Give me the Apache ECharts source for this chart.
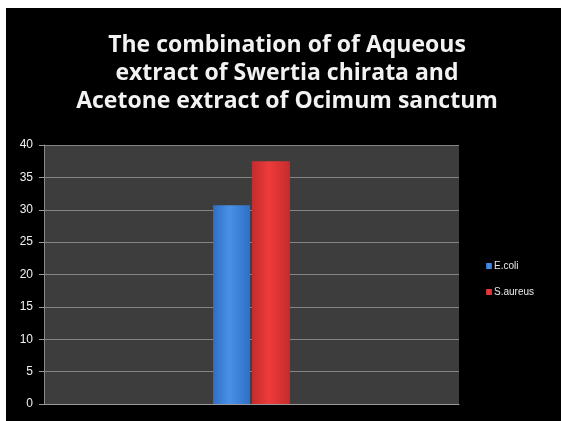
<!DOCTYPE html>
<html>
<head>
<meta charset="utf-8">
<script src="https://cdn.jsdelivr.net/npm/echarts@6/dist/echarts.min.js"></script>
<style>
  html, body { margin: 0; padding: 0; background: #000; }
  #chart { width: 561px; height: 421px; }
</style>
</head>
<body>
<div id="chart"></div>
<script>
// Zone of inhibition for the combined extracts
const categories = ['Combination'];
const ecoli = [30.7];
const saureus = [37.5];
const yTicks = [0, 5, 10, 15, 20, 25, 30, 35, 40];

const chart = echarts.init(document.getElementById('chart'));

function barGradient(dark, light) {
  return new echarts.graphic.LinearGradient(0, 0, 1, 0, [
    { offset: 0, color: dark },
    { offset: 0.45, color: light },
    { offset: 1, color: dark }
  ]);
}

chart.setOption({
  backgroundColor: '#000',
  animation: false,
  title: {
    text: 'The combination of of Aqueous\nextract of Swertia chirata and\nAcetone extract of Ocimum sanctum',
    left: 282,
    top: 26,
    textAlign: 'center',
    textStyle: {
      color: '#f2f2f2',
      fontFamily: 'Open Sans',
      fontWeight: 'bold',
      fontSize: 23,
      lineHeight: 28
    }
  },
  graphic: [
    { type: 'rect', shape: { x: 0, y: 0, width: 561, height: 8 }, style: { fill: '#fff' } },
    { type: 'rect', shape: { x: 0, y: 0, width: 6, height: 421 }, style: { fill: '#fff' } }
  ],
  legend: {
    orient: 'vertical',
    left: 481,
    top: 256,
    itemWidth: 6,
    itemHeight: 6,
    itemGap: 16,
    icon: 'rect',
    textStyle: { color: '#e8e8e8', fontSize: 10, fontFamily: 'Liberation Sans', padding: [0, 0, 0, -3] },
    data: ['E.coli', 'S.aureus']
  },
  grid: {
    left: 44,
    right: 102,
    top: 145,
    bottom: 17,
    show: true,
    backgroundColor: '#3d3d3d',
    borderWidth: 0
  },
  xAxis: {
    type: 'category',
    data: categories,
    axisLine: { show: true, lineStyle: { color: '#9a9a9a', width: 1 } },
    axisTick: { show: false },
    axisLabel: { show: false }
  },
  yAxis: {
    type: 'value',
    min: yTicks[0],
    max: yTicks[yTicks.length - 1],
    interval: 5,
    axisLine: { show: true, lineStyle: { color: '#8a8a8a' } },
    axisTick: { show: true, length: 5, lineStyle: { color: '#9a9a9a' } },
    axisLabel: { color: '#f0f0f0', fontSize: 12, fontFamily: 'Liberation Sans', margin: 11 },
    splitLine: { show: true, lineStyle: { color: '#858585', width: 1 } }
  },
  series: [
    {
      name: 'E.coli',
      type: 'bar',
      data: ecoli,
      barWidth: 37,
      barGap: '5%',
      itemStyle: { color: barGradient('#2f6fc4', '#4a90e8') }
    },
    {
      name: 'S.aureus',
      type: 'bar',
      data: saureus,
      barWidth: 38,
      itemStyle: { color: barGradient('#c42c2c', '#ee3b3b') }
    }
  ]
});
</script>
</body>
</html>
